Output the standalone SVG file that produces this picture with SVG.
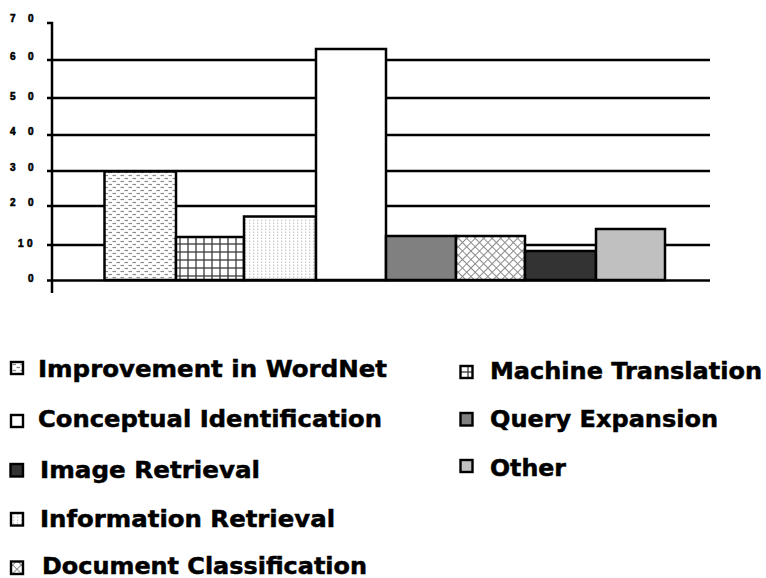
<svg xmlns="http://www.w3.org/2000/svg" width="766" height="578" viewBox="0 0 766 578">
  <style>
    .axis { stroke: #000; stroke-width: 2.5; fill: none; }
    .grid { stroke: #000; stroke-width: 2.5; }
    .bar { stroke: #000; stroke-width: 2.5; }
    .tick { font-family: "Liberation Sans", Arial, sans-serif; font-weight: bold; font-size: 10px; fill: #000; stroke: #000; stroke-width: 0.6; }
    .key { stroke: #000; stroke-width: 2.4; }
    .label { font-family: "DejaVu Sans", Verdana, sans-serif; font-weight: bold; font-size: 23px; fill: #000; stroke: #000; stroke-width: 0.5; }
  </style>
  <defs>
    <!-- staggered short dashes -->
    <pattern id="p-dash" width="8" height="6" patternUnits="userSpaceOnUse">
      <rect width="8" height="6" fill="#fff"/>
      <line x1="0.5" y1="1.5" x2="4" y2="1.5" stroke="#8a8a8a" stroke-width="1.2"/>
      <line x1="4.5" y1="4.5" x2="8" y2="4.5" stroke="#8a8a8a" stroke-width="1.2"/>
    </pattern>
    <!-- square grid -->
    <pattern id="p-grid" width="8" height="8" patternUnits="userSpaceOnUse">
      <rect width="8" height="8" fill="#fff"/>
      <line x1="4" y1="0" x2="4" y2="8" stroke="#3a3a3a" stroke-width="1.3"/>
      <line x1="0" y1="4" x2="8" y2="4" stroke="#3a3a3a" stroke-width="1.3"/>
    </pattern>
    <!-- fine light dots -->
    <pattern id="p-dots" width="4" height="3" patternUnits="userSpaceOnUse">
      <rect width="4" height="3" fill="#fff"/>
      <rect x="1" y="0.5" width="1.2" height="1.5" fill="#c8c8c8"/>
    </pattern>
    <!-- diagonal cross-hatch -->
    <pattern id="p-cross" width="6" height="6" patternUnits="userSpaceOnUse" patternTransform="rotate(45)">
      <rect width="6" height="6" fill="#fff"/>
      <line x1="0" y1="0" x2="6" y2="0" stroke="#8c8c8c" stroke-width="2"/>
      <line x1="0" y1="0" x2="0" y2="6" stroke="#8c8c8c" stroke-width="2"/>
    </pattern>
  </defs>

  <rect width="766" height="578" fill="#fff"/>

  <!-- value scale -->
  <g id="scale">
    <text class="tick" x="10 28" y="22">70</text>
    <text class="tick" x="10 28" y="60">60</text>
    <text class="tick" x="10 28" y="100">50</text>
    <text class="tick" x="10 28" y="135">40</text>
    <text class="tick" x="10 28" y="171">30</text>
    <text class="tick" x="10 28" y="206">20</text>
    <text class="tick" x="18 27" y="247">10</text>
    <text class="tick" x="28" y="282">0</text>
  </g>

  <!-- grid lines and axis -->
  <g id="grid">
    <line class="grid" x1="47" y1="60" x2="710" y2="60"/>
    <line class="grid" x1="47" y1="98" x2="710" y2="98"/>
    <line class="grid" x1="47" y1="135" x2="710" y2="135"/>
    <line class="grid" x1="47" y1="171" x2="710" y2="171"/>
    <line class="grid" x1="47" y1="206" x2="710" y2="206"/>
    <line class="grid" x1="47" y1="245" x2="710" y2="245"/>
    <polyline class="axis" points="47,23 52,23 52,293"/>
  </g>

  <!-- bars -->
  <g id="bars">
    <rect id="bar-wordnet" class="bar" x="104.5" y="171.5" width="71.5" height="108.5" fill="url(#p-dash)"/>
    <rect id="bar-mt" class="bar" x="176" y="237" width="68" height="43" fill="url(#p-grid)"/>
    <rect id="bar-ir" class="bar" x="244" y="216.5" width="72" height="63.5" fill="url(#p-dots)"/>
    <rect id="bar-ci" class="bar" x="316" y="49" width="70" height="231" fill="#fff"/>
    <rect id="bar-qe" class="bar" x="386" y="236" width="70" height="44" fill="#808080"/>
    <rect id="bar-dc" class="bar" x="456" y="236" width="69" height="44" fill="url(#p-cross)"/>
    <rect id="bar-img" class="bar" x="525" y="251" width="71" height="29" fill="#333"/>
    <rect id="bar-other" class="bar" x="596" y="229" width="69" height="51" fill="#c0c0c0"/>
  </g>
  <line id="baseline" class="grid" x1="47" y1="280.5" x2="710" y2="280.5"/>

  <!-- legend -->
  <g id="legend">
    <g id="key-wordnet">
      <rect class="key" x="11" y="362" width="12" height="12" fill="url(#p-dash)"/>
      <text class="label" x="38" y="377" textLength="349" lengthAdjust="spacingAndGlyphs">Improvement in WordNet</text>
    </g>
    <g id="key-ci">
      <rect class="key" x="11" y="415" width="12" height="12" fill="#fff"/>
      <text class="label" x="38" y="427" textLength="344" lengthAdjust="spacingAndGlyphs">Conceptual Identification</text>
    </g>
    <g id="key-img">
      <rect class="key" x="10.5" y="464" width="12.5" height="12.5" fill="#333"/>
      <text class="label" x="40" y="478" textLength="220" lengthAdjust="spacingAndGlyphs">Image Retrieval</text>
    </g>
    <g id="key-ir">
      <rect class="key" x="11" y="513" width="12" height="12.5" fill="url(#p-dots)"/>
      <text class="label" x="40" y="527" textLength="295" lengthAdjust="spacingAndGlyphs">Information Retrieval</text>
    </g>
    <g id="key-dc">
      <rect class="key" x="11" y="561.5" width="12" height="12.5" fill="url(#p-cross)"/>
      <text class="label" x="42" y="574" textLength="325" lengthAdjust="spacingAndGlyphs">Document Classification</text>
    </g>
    <g id="key-mt">
      <rect class="key" x="460.5" y="366" width="12" height="12" fill="url(#p-grid)"/>
      <text class="label" x="490" y="379" textLength="272" lengthAdjust="spacingAndGlyphs">Machine Translation</text>
    </g>
    <g id="key-qe">
      <rect class="key" x="460.5" y="413" width="12" height="12.5" fill="#808080"/>
      <text class="label" x="490" y="427" textLength="228" lengthAdjust="spacingAndGlyphs">Query Expansion</text>
    </g>
    <g id="key-other">
      <rect class="key" x="460.5" y="460" width="12" height="12" fill="#c0c0c0"/>
      <text class="label" x="490" y="476" textLength="76" lengthAdjust="spacingAndGlyphs">Other</text>
    </g>
  </g>
</svg>
